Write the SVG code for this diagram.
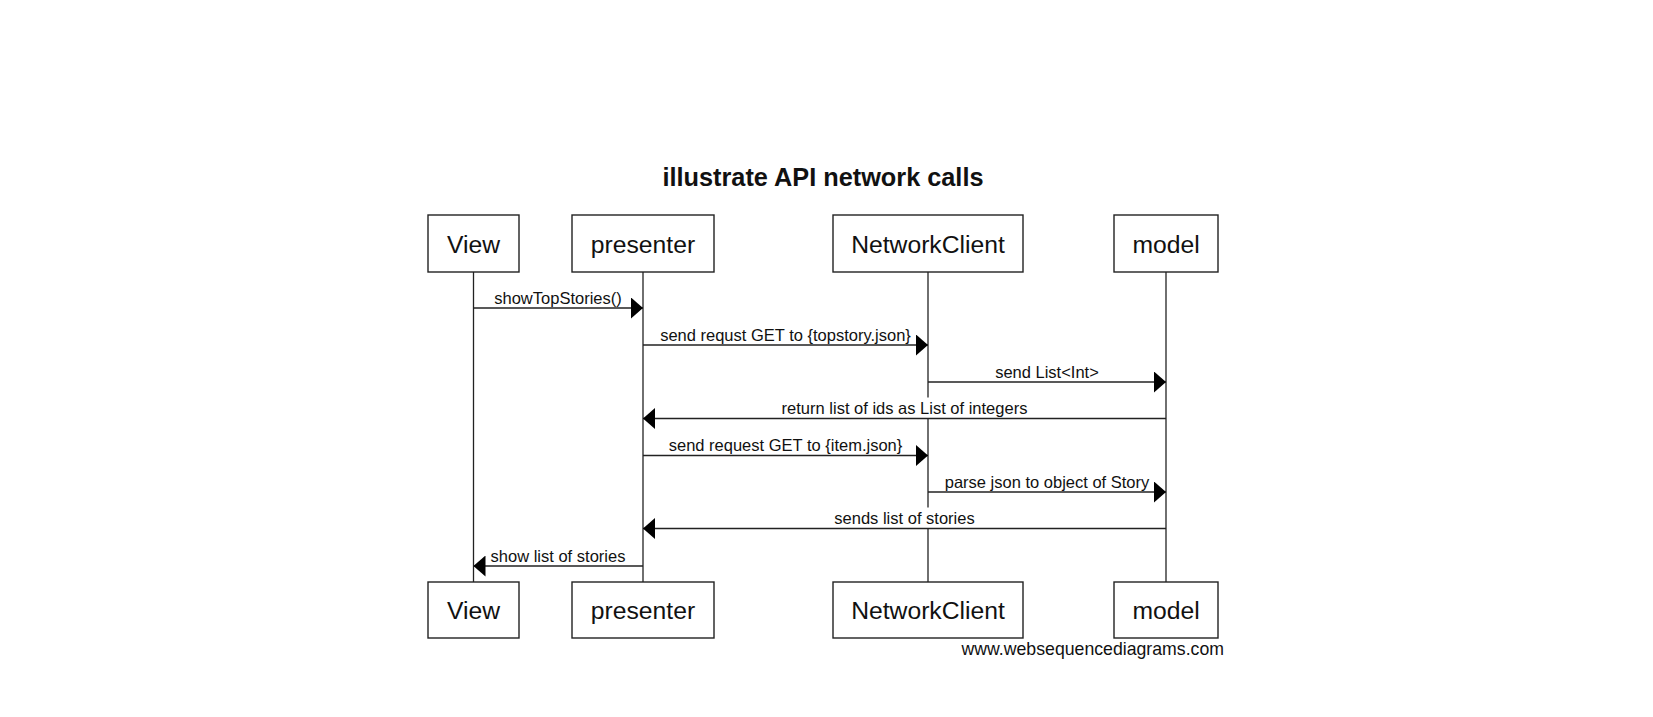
<svg xmlns="http://www.w3.org/2000/svg" width="1653" height="717" viewBox="0 0 1653 717">
<style>
.box{fill:#fff;stroke:#222;stroke-width:1.4}
.life{stroke:#222;stroke-width:1.3;fill:none}
.msg{stroke:#222;stroke-width:1.3;fill:none;marker-end:url(#ah)}
.bg{fill:#fff;stroke:none}
.nt{font-family:"Liberation Sans",Arial,sans-serif;font-size:24.7px;fill:#111;text-anchor:middle}
.mt{font-family:"Liberation Sans",Arial,sans-serif;font-size:16.5px;fill:#111;text-anchor:middle}
.title{font-family:"Liberation Sans",Arial,sans-serif;font-size:25.3px;font-weight:bold;fill:#111;text-anchor:middle}
.wm{font-family:"Liberation Sans",Arial,sans-serif;font-size:17.7px;fill:#111;text-anchor:end}
</style>
<defs>
<marker id="ah" viewBox="0 0 12 21" refX="12" refY="10.5" markerWidth="12" markerHeight="21" markerUnits="userSpaceOnUse" orient="auto">
<path d="M0,0 L12,10.5 L0,21 Z" fill="#000"/>
</marker>
</defs>
<rect width="1653" height="717" fill="#fff"/>
<text class="title" x="823" y="186">illustrate API network calls</text>
<g id="View">
<line class="life" x1="473.5" y1="272" x2="473.5" y2="582"/>
<rect class="box" x="428" y="215" width="91" height="57"/>
<text class="nt" x="473.5" y="252.5">View</text>
<rect class="box" x="428" y="582" width="91" height="56"/>
<text class="nt" x="473.5" y="618.5">View</text>
</g>
<g id="presenter">
<line class="life" x1="643" y1="272" x2="643" y2="582"/>
<rect class="box" x="572" y="215" width="142" height="57"/>
<text class="nt" x="643" y="252.5">presenter</text>
<rect class="box" x="572" y="582" width="142" height="56"/>
<text class="nt" x="643" y="618.5">presenter</text>
</g>
<g id="NetworkClient">
<line class="life" x1="928" y1="272" x2="928" y2="582"/>
<rect class="box" x="833" y="215" width="190" height="57"/>
<text class="nt" x="928" y="252.5">NetworkClient</text>
<rect class="box" x="833" y="582" width="190" height="56"/>
<text class="nt" x="928" y="618.5">NetworkClient</text>
</g>
<g id="model">
<line class="life" x1="1166" y1="272" x2="1166" y2="582"/>
<rect class="box" x="1114" y="215" width="104" height="57"/>
<text class="nt" x="1166" y="252.5">model</text>
<rect class="box" x="1114" y="582" width="104" height="56"/>
<text class="nt" x="1166" y="618.5">model</text>
</g>
<g id="connectors">
<rect class="bg" x="493" y="287.5" width="131" height="20"/>
<line class="msg" x1="473.5" y1="308" x2="643" y2="308"/>
<text class="mt" x="558" y="303.5">showTopStories()</text>

<rect class="bg" x="658" y="324.5" width="255" height="20"/>
<line class="msg" x1="643" y1="345" x2="928" y2="345"/>
<text class="mt" x="785.5" y="340.5">send requst GET to {topstory.json}</text>

<rect class="bg" x="993" y="361.5" width="108" height="20"/>
<line class="msg" x1="928" y1="382" x2="1166" y2="382"/>
<text class="mt" x="1047" y="377.5">send List&lt;Int&gt;</text>

<rect class="bg" x="779" y="397.5" width="251" height="20.5"/>
<line class="msg" x1="1166" y1="418.5" x2="643" y2="418.5"/>
<text class="mt" x="904.5" y="414">return list of ids as List of integers</text>

<rect class="bg" x="667" y="435" width="236" height="20"/>
<line class="msg" x1="643" y1="455.5" x2="928" y2="455.5"/>
<text class="mt" x="785.5" y="451">send request GET to {item.json}</text>

<rect class="bg" x="944" y="471.5" width="206" height="20"/>
<line class="msg" x1="928" y1="492" x2="1166" y2="492"/>
<text class="mt" x="1047" y="487.5">parse json to object of Story</text>

<rect class="bg" x="832" y="507.5" width="145" height="20.5"/>
<line class="msg" x1="1166" y1="528.5" x2="643" y2="528.5"/>
<text class="mt" x="904.5" y="524">sends list of stories</text>

<rect class="bg" x="490" y="545.5" width="138" height="20"/>
<line class="msg" x1="643" y1="566" x2="473.5" y2="566"/>
<text class="mt" x="558" y="561.5">show list of stories</text>
</g>
<text class="wm" x="1224" y="655">www.websequencediagrams.com</text>
</svg>
